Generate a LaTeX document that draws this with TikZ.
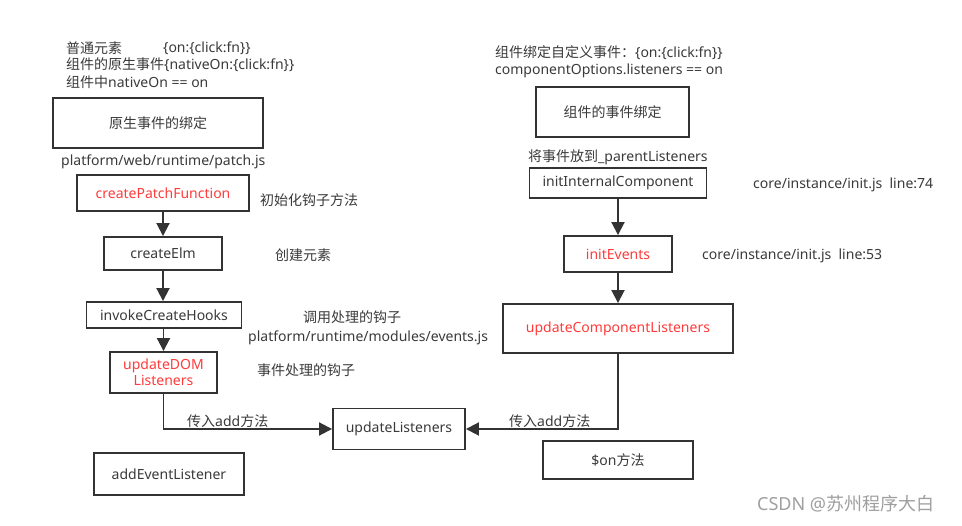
\documentclass[tikz,border=0pt]{standalone}
\usepackage{fontspec}
\setmainfont{Noto Sans}
\newfontfamily\cjk{Noto Sans CJK SC}
\usetikzlibrary{arrows.meta}
\definecolor{ink}{HTML}{333333}
\definecolor{txt}{HTML}{3A3A3A}
\definecolor{redtxt}{HTML}{FF3B3B}
\begin{document}
\begin{tikzpicture}[x=1pt,y=-1pt,
  every node/.style={font=\fontsize{14}{17}\selectfont, text=txt},
  box/.style={draw=ink, line width=1.9pt, fill=white, inner sep=0pt, align=center},
  lbl/.style={anchor=west, inner sep=0pt, align=left},
  conn/.style={draw=ink, line width=1.9pt, -{Triangle[length=13pt,width=13pt]}},
  red/.style={text=redtxt}]
\useasboundingbox (0,0) rectangle (962,526);
\fill[white] (0,0) rectangle (962,526);

% left column
\node[lbl] (t1) at (66,48) {{\cjk 普通元素}};
\node[lbl] (t1b) at (163,48) {\{on:\{click:fn\}\}};
\node[lbl] (t2) at (66,65) {{\cjk 组件的原生事件}\{nativeOn:\{click:fn\}\}};
\node[lbl] (t3) at (66,82) {{\cjk 组件中}nativeOn == on};
\node[box, minimum width=210, minimum height=50] (native) at (158,123) {{\cjk 原生事件的绑定}};
\node[lbl] (patch) at (61,162) {platform/web/runtime/patch.js};
\node[box, red, minimum width=172, minimum height=36] (cpf) at (163,193) {createPatchFunction};
\node[lbl] (n1) at (260,200) {{\cjk 初始化钩子方法}};
\node[box, minimum width=118, minimum height=33] (ce) at (163,253.5) {createElm};
\node[lbl] (n2) at (275,255) {{\cjk 创建元素}};
\node[box, minimum width=155, minimum height=26] (ich) at (164,315) {invokeCreateHooks};
\node[lbl] (n3) at (303,317) {{\cjk 调用处理的钩子}};
\node[lbl] (n4) at (248,338) {platform/runtime/modules/events.js};
\node[box, red, minimum width=107, minimum height=41, font=\fontsize{14}{15.5}\selectfont] (udl) at (163.5,372.5) {updateDOM\\Listeners};
\node[lbl] (n5) at (257,370) {{\cjk 事件处理的钩子}};
\node[box, minimum width=150, minimum height=42] (ael) at (169,474) {addEventListener};

% middle
\node[box, minimum width=132, minimum height=41] (ul) at (399,429) {updateListeners};
\node[lbl] (a1) at (187,421) {{\cjk 传入}add{\cjk 方法}};
\node[lbl] (a2) at (509,421) {{\cjk 传入}add{\cjk 方法}};

% right column
\node[lbl] (r1) at (495,53) {{\cjk 组件绑定自定义事件：}\{on:\{click:fn\}\}};
\node[lbl] (r2) at (495,71) {componentOptions.listeners == on};
\node[box, minimum width=153, minimum height=50] (comp) at (612.5,112) {{\cjk 组件的事件绑定}};
\node[lbl] (r3) at (528,157) {{\cjk 将事件放到}\_parentListeners};
\node[box, minimum width=177, minimum height=30] (iic) at (618,183) {initInternalComponent};
\node[lbl] (r4) at (753,185) {core/instance/init.js\ \ line:74};
\node[box, red, minimum width=108, minimum height=36] (ie) at (618,254) {initEvents};
\node[lbl] (r5) at (702,256) {core/instance/init.js\ \ line:53};
\node[box, red, minimum width=230, minimum height=49] (ucl) at (618,328.5) {updateComponentListeners};
\node[box, minimum width=150, minimum height=38] (on) at (618,460) {\$on{\cjk 方法}};

% watermark
\node[lbl, text=gray!75, font=\fontsize{18}{20}\selectfont] (wm) at (757,504) {CSDN @{\cjk 苏州程序大白}};

% connectors
\draw[conn] (cpf.south) -- (ce.north);
\draw[conn] (ce.south) -- (ich.north -| ce.south);
\draw[conn] (ich.south -| udl.north) -- (udl.north);
\draw[conn] (udl.south) |- (ul.west);
\draw[conn] (iic.south) -- (ie.north -| iic.south);
\draw[conn] (ie.south) -- (ucl.north -| ie.south);
\draw[conn] (ucl.south) |- (ul.east);
\end{tikzpicture}
\end{document}
